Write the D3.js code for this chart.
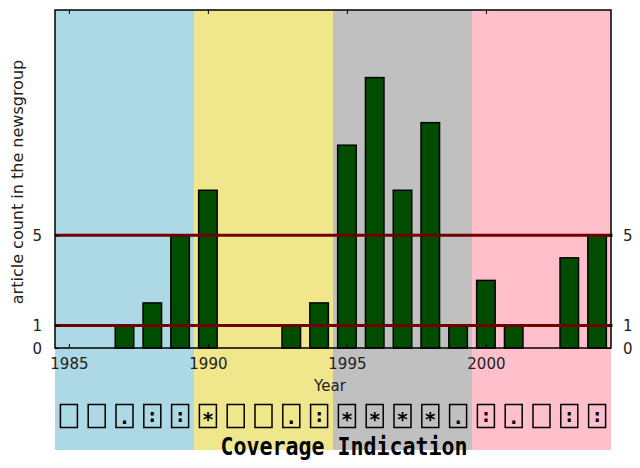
<!DOCTYPE html>
<html><head><meta charset="utf-8">
<script src="https://cdn.jsdelivr.net/npm/d3@7"></script>
<style>html,body{margin:0;padding:0;background:#fff;}svg{display:block;}</style>
</head><body>
<svg id="chart" width="640" height="468"></svg>
<script>
const years = [1985,1986,1987,1988,1989,1990,1991,1992,1993,1994,1995,1996,1997,1998,1999,2000,2001,2002,2003,2004];
const counts = [0,0,1,2,5,7,0,0,1,2,9,12,7,10,1,3,1,0,4,5];
const coverage = ["","",".",":",":","*","","",".",":","*","*","*","*",".",":",".","",":",":"];
const eraStarts = [1985,1990,1995,2000];
const eraEnds = [1989,1994,1999,2004];
const eraColors = ["#add8e6","#f0e68c","#c0c0c0","#ffc0cb"];
const thresholds = [1,5];
const yTicks = [0,1,5];
const xTicks = [1985,1990,1995,2000];

const svg = d3.select("#chart");
const L=55, R=611, T=10, B=348;
const x = d3.scaleLinear().domain([1984.5,2004.5]).range([L,R]);
const y = d3.scaleLinear().domain([0,15]).range([B,T]);
const step = x(1986)-x(1985);

// background eras
svg.selectAll("rect.era").data(eraStarts).enter().append("rect")
  .attr("x",(d)=>x(d-0.5)).attr("y",T)
  .attr("width",(d,i)=>x(eraEnds[i]+0.5)-x(d-0.5)).attr("height",450-T)
  .attr("fill",(d,i)=>eraColors[i]);

// bars
svg.selectAll("rect.bar").data(years.map((yr,i)=>({yr,v:counts[i]})).filter(d=>d.v>0)).enter().append("rect")
  .attr("x",d=>x(d.yr)-step*0.333).attr("width",step*0.666)
  .attr("y",d=>y(d.v)).attr("height",d=>y(0)-y(d.v))
  .attr("fill","#004d00").attr("stroke","#000").attr("stroke-width",1.5);

// threshold lines
svg.selectAll("line.th").data(thresholds).enter().append("line")
  .attr("x1",L).attr("x2",R+1.5).attr("y1",d=>y(d)).attr("y2",d=>y(d))
  .attr("stroke","#700000").attr("stroke-width",3);

// frame
svg.append("path").attr("d",`M${L},${B}V${T}H${R}V${B}Z`).attr("fill","none").attr("stroke","#000").attr("stroke-width",1.5);

// axes
const font = "DejaVu Sans, sans-serif";
const xb = svg.append("g").attr("transform",`translate(0,${B})`)
  .call(d3.axisBottom(x).tickValues(xTicks).tickFormat(d3.format("d")).tickSizeInner(-4).tickSizeOuter(0).tickPadding(10));
const xt = svg.append("g").attr("transform",`translate(0,${T})`)
  .call(d3.axisTop(x).tickValues(xTicks).tickFormat("").tickSizeInner(-4).tickSizeOuter(0));
const yl = svg.append("g").attr("transform",`translate(${L},0)`)
  .call(d3.axisLeft(y).tickValues(yTicks).tickFormat(d3.format("d")).tickSizeInner(-4).tickSizeOuter(0).tickPadding(13));
const yr = svg.append("g").attr("transform",`translate(${R},0)`)
  .call(d3.axisRight(y).tickValues(yTicks).tickFormat(d3.format("d")).tickSizeInner(-4).tickSizeOuter(0).tickPadding(12));
[xb,xt,yl,yr].forEach(g=>{
  g.select(".domain").remove();
  g.selectAll(".tick line").attr("stroke","#000").attr("stroke-width",1);
  g.selectAll(".tick text").attr("font-family",font).attr("font-size",15).attr("fill","#222");
});
yl.selectAll(".tick text").attr("dy","0.35em");
yr.selectAll(".tick text").attr("dy","0.35em");

// axis titles
svg.append("text").attr("x",330).attr("y",391).attr("text-anchor","middle")
  .attr("font-family",font).attr("font-size",15).attr("fill","#222").text("Year");
svg.append("text").attr("transform",`translate(23,${(T+B)/2+3}) rotate(-90)`).attr("text-anchor","middle")
  .attr("font-family",font).attr("font-size",16).attr("fill","#222").text("article count in the newsgroup");

// coverage boxes
const bw=17, bh=23, by=404.5;
const cov = svg.selectAll("g.cov").data(years).enter().append("g")
  .attr("transform",d=>`translate(${x(d)},${by})`);
cov.append("rect").attr("x",-bw/2).attr("y",0).attr("width",bw).attr("height",bh)
  .attr("fill","none").attr("stroke","#000").attr("stroke-width",1.5);
cov.append("text").attr("x",0)
  .attr("y",(d,i)=>coverage[i]==="*" ? 21 : (coverage[i]===":" ? 17.5 : 19))
  .attr("text-anchor","middle")
  .attr("font-family","DejaVu Sans Mono, monospace").attr("font-weight","bold")
  .attr("font-size",(d,i)=>coverage[i]==="*" ? 20 : 19)
  .text((d,i)=>coverage[i]);

svg.append("text").attr("transform","translate(344,455) scale(1,1.16)").attr("text-anchor","middle")
  .attr("font-family","DejaVu Sans Mono, monospace").attr("font-weight","bold").attr("font-size",21.6)
  .attr("fill","#000").text("Coverage Indication");
</script>
</body></html>
